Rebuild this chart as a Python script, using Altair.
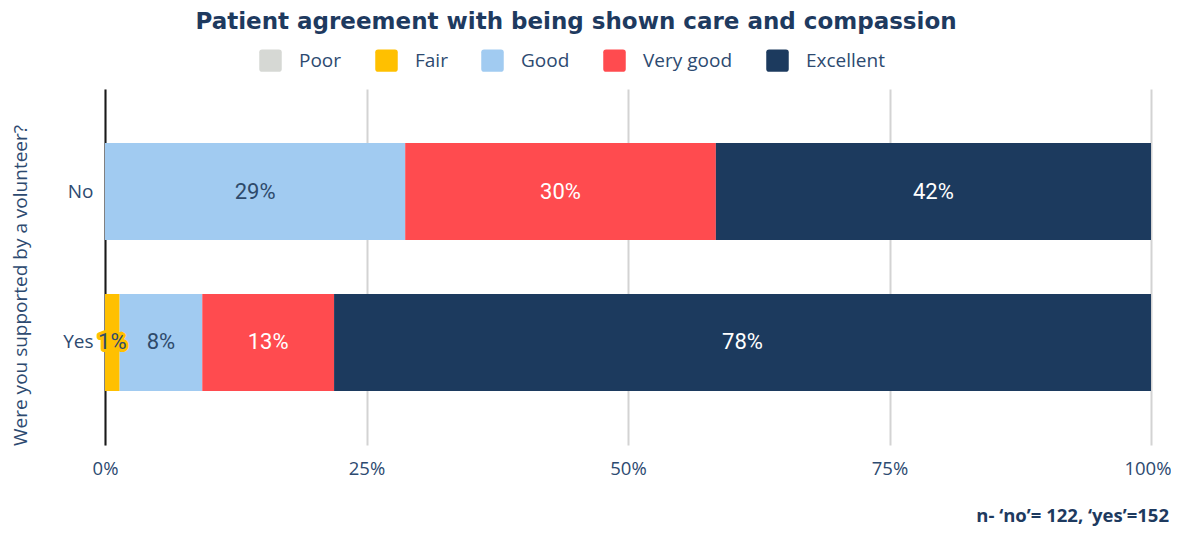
import altair as alt
import pandas as pd

categories = ["Poor", "Fair", "Good", "Very good", "Excellent"]
colors = ["#D6D8D4", "#FFC000", "#A1CBF1", "#FF4B4F", "#1C3A5E"]
groups = ["No", "Yes"]
no_values = [0, 0, 28.7, 29.7, 41.6]
yes_values = [0, 1.4, 7.9, 12.6, 78.1]
no_labels = ["", "", "29%", "30%", "42%"]
yes_labels = ["", "1%", "8%", "13%", "78%"]
tick_values = [0, 25, 50, 75, 100]
title_text = "Patient agreement with being shown care and compassion"
y_title = "Were you supported by a volunteer?"
footnote = "n- \u2018no\u2019= 122, \u2018yes\u2019=152"

rows = []
for g, vals, labs in [("No", no_values, no_labels), ("Yes", yes_values, yes_labels)]:
    for i, (c, v, l) in enumerate(zip(categories, vals, labs)):
        rows.append({"group": g, "category": c, "value": v, "label": l, "order": i})
df = pd.DataFrame(rows)

TXT = "#2D4A70"
DARK = "#1E3A5F"

base = alt.Chart(df).transform_stack(
    stack="value", groupby=["group"], as_=["v0", "v1"], sort=[alt.SortField("order")]
).transform_calculate(mid="(datum.v0 + datum.v1) / 2")

y_enc = alt.Y(
    "group:N",
    sort=groups,
    scale=alt.Scale(paddingInner=0.358, paddingOuter=0.358),
    axis=alt.Axis(
        title=y_title,
        titleFont="Open Sans",
        titleFontSize=19,
        titleFontWeight="normal",
        titleColor=TXT,
        titleX=-85,
        titleY=196,
        titleAlign="center",
        titleBaseline="middle",
        titleAngle=270,
        labelFont="Open Sans",
        labelFontSize=19,
        labelColor=TXT,
        labelPadding=12,
        ticks=False,
        domain=True,
        domainColor="#1A1A1A",
        domainWidth=2,
        grid=False,
    ),
)

x_scale = alt.Scale(domain=[0, 100], nice=False)

bars = base.mark_bar().encode(
    x=alt.X(
        "v0:Q",
        scale=x_scale,
        axis=alt.Axis(
            values=tick_values,
            labelExpr="datum.value + '%'",
            title=None,
            labelFont="Open Sans",
            labelFontSize=18.5,
            labelColor=TXT,
            labelPadding=14,
            labelFlush=False,
            labelAlign=alt.condition("datum.value == 100", alt.value("right"), alt.value("center")),
            labelOffset=alt.condition("datum.value == 100", alt.value(20), alt.value(0)),
            ticks=False,
            domain=False,
            grid=True,
            gridColor="#D3D3D3",
            gridWidth=2,
        ),
    ),
    x2="v1:Q",
    y=y_enc,
    color=alt.Color(
        "category:N",
        scale=alt.Scale(domain=categories, range=colors),
        legend=alt.Legend(
            title=None,
            orient="none",
            direction="horizontal",
            legendX=154,
            legendY=-40,
            symbolType="M-0.75,-1L0.75,-1Q1,-1 1,-0.75L1,0.75Q1,1 0.75,1L-0.75,1Q-1,1 -1,0.75L-1,-0.75Q-1,-1 -0.75,-1Z",
            symbolSize=506,
            symbolStrokeWidth=0,
            symbolOpacity=1,
            labelFont="Open Sans",
            labelFontSize=19,
            labelColor=TXT,
            labelOffset=17,
            columnPadding=33,
        ),
    ),
)

labels_base = base.transform_filter("datum.label != ''").transform_calculate(
    tc="(datum.category == 'Very good' || datum.category == 'Excellent') ? 'white' : '#2E4A6B'"
)

halo = labels_base.transform_filter("datum.category == 'Fair'").mark_text(
    font="Roboto", fontSize=22, stroke="#FFC000", strokeWidth=6, strokeJoin="round",
    color="#FFC000",
).encode(x=alt.X("mid:Q", scale=x_scale), y=alt.Y("group:N", sort=groups), text="label:N")

texts = labels_base.mark_text(font="Roboto", fontSize=22).encode(
    x=alt.X("mid:Q", scale=x_scale),
    y=alt.Y("group:N", sort=groups),
    text="label:N",
    color=alt.Color("tc:N", scale=None, legend=None),
)

title_mark = alt.Chart(pd.DataFrame({"t": [title_text]})).mark_text(
    font="DejaVu Sans", fontSize=23, fontWeight="bold", color=DARK,
    align="center", baseline="alphabetic",
).encode(text="t:N", x=alt.value(471), y=alt.value(-60))

foot = alt.Chart(pd.DataFrame({"t": [footnote]})).mark_text(
    font="Open Sans", fontSize=18.5, fontWeight="bold", color=DARK,
    align="right", baseline="alphabetic",
).encode(text="t:N", x=alt.value(1064), y=alt.value(433))

chart = alt.layer(bars, halo, texts, title_mark, foot).properties(
    width=1046,
    height=356,
    autosize="none",
    padding={"left": 97, "top": 81, "right": 20, "bottom": 81},
).configure_view(stroke=None)

chart.save("out.html", embed_options={"renderer": "svg", "actions": False})
